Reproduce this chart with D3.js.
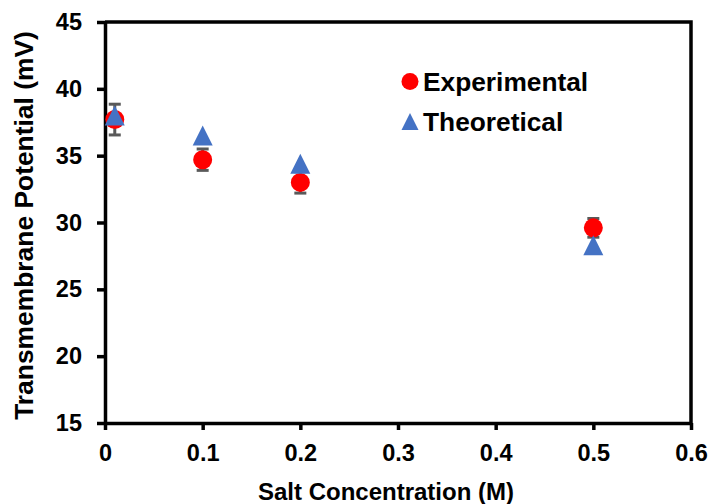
<!DOCTYPE html>
<html>
<head>
<meta charset="utf-8">
<script src="https://cdn.jsdelivr.net/npm/d3@7"></script>
<style>
  body { margin: 0; background: #fff; }
  text { font-family: "Liberation Sans", Arial, sans-serif; font-weight: bold; }
</style>
</head>
<body>
<div id="chart"></div>
<script>
// 数据
const concentrations = [0.01, 0.1, 0.2, 0.5];
const experimental = [37.7, 34.7, 33.0, 29.6];
const expError = [1.15, 0.8, 0.8, 0.7];
const theoretical = [38.0, 36.5, 34.4, 28.3];
const xTicks = [0, 0.1, 0.2, 0.3, 0.4, 0.5, 0.6];
const yTicks = [15, 20, 25, 30, 35, 40, 45];

const width = 711, height = 504;
const margin = { left: 105, right: 20, top: 22, bottom: 81 };

const svg = d3.select('#chart')
    .append('svg')
    .attr('width', width)
    .attr('height', height);

const x = d3.scaleLinear().domain([0, 0.6]).range([margin.left, width - margin.right]);
const y = d3.scaleLinear().domain([15, 45]).range([height - margin.bottom, margin.top]);

// 坐标轴
const xAxis = svg.append('g')
    .attr('transform', `translate(0,${y(15)})`)
    .call(d3.axisBottom(x).tickValues(xTicks).tickSize(7).tickSizeOuter(0)
        .tickFormat(d => d === 0 ? '0' : d3.format('.1f')(d)));
xAxis.selectAll('text').attr('font-size', 23.5).attr('fill', '#000').attr('dy', '1.2em');

const yAxis = svg.append('g')
    .attr('transform', `translate(${x(0)},0)`)
    .call(d3.axisLeft(y).tickValues(yTicks).tickSize(8).tickSizeOuter(0));
yAxis.selectAll('text').attr('font-size', 23.5).attr('fill', '#000').attr('x', -23);

[xAxis, yAxis].forEach(a => {
    a.select('.domain').attr('stroke', '#000').attr('stroke-width', 3.5);
    a.selectAll('.tick line').attr('stroke', '#000').attr('stroke-width', 3.5);
    a.attr('font-family', null);
});

// 上边框和右边框
svg.append('path')
    .attr('d', `M${x(0)},${y(45)}H${x(0.6)}V${y(15)}`)
    .attr('fill', 'none')
    .attr('stroke', '#000')
    .attr('stroke-width', 3.5);

// 误差线
const errG = svg.append('g').attr('stroke', '#595959').attr('stroke-width', 3);
concentrations.forEach((c, i) => {
    const cx = x(c), y1 = y(experimental[i] + expError[i]), y2 = y(experimental[i] - expError[i]);
    errG.append('line').attr('x1', cx).attr('x2', cx).attr('y1', y1).attr('y2', y2);
    errG.append('line').attr('x1', cx - 6).attr('x2', cx + 6).attr('y1', y1).attr('y2', y1);
    errG.append('line').attr('x1', cx - 6).attr('x2', cx + 6).attr('y1', y2).attr('y2', y2);
});

// 实验值
svg.append('g').selectAll('circle')
    .data(concentrations)
    .enter()
    .append('circle')
    .attr('cx', d => x(d))
    .attr('cy', (d, i) => y(experimental[i]))
    .attr('r', 9.5)
    .attr('fill', '#ff0000');

// 理论值
const tri = (cx, cy, s) => `M${cx},${cy - s / 2}L${cx + s / 2},${cy + s / 2}L${cx - s / 2},${cy + s / 2}Z`;
svg.append('g').selectAll('path')
    .data(concentrations)
    .enter()
    .append('path')
    .attr('d', (d, i) => tri(x(d), y(theoretical[i]), 20))
    .attr('fill', '#4472c4');

// 图例
svg.append('circle').attr('cx', 410).attr('cy', 81.5).attr('r', 8.5).attr('fill', '#ff0000');
svg.append('text').attr('x', 423).attr('y', 91).attr('font-size', 26.3).text('Experimental');
svg.append('path').attr('d', tri(410, 121.5, 17)).attr('fill', '#4472c4');
svg.append('text').attr('x', 423).attr('y', 130.5).attr('font-size', 26.3).text('Theoretical');

// 轴标题
svg.append('text')
    .attr('x', 386).attr('y', 500)
    .attr('text-anchor', 'middle')
    .attr('font-size', 24)
    .text('Salt Concentration (M)');

svg.append('text')
    .attr('transform', 'translate(33,225.5) rotate(-90)')
    .attr('text-anchor', 'middle')
    .attr('font-size', 26.4)
    .text('Transmembrane Potential (mV)');
</script>
</body>
</html>
